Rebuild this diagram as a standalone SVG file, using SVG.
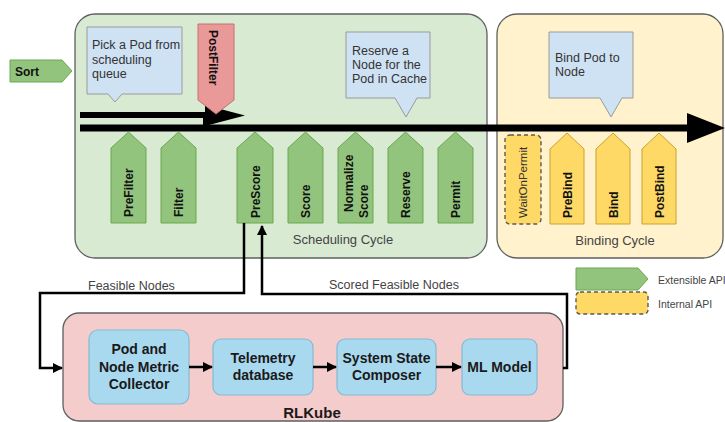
<svg xmlns="http://www.w3.org/2000/svg" width="725" height="422" viewBox="0 0 725 422">
  <defs>
    <style>
      text { font-family: "Liberation Sans", Arial, sans-serif; }
      .panel { stroke: #5f5f5f; stroke-width: 1.3; }
      .ext { fill: #93c47d; stroke: #6aa84f; stroke-width: 1; }
      .bind { fill: #ffd966; stroke: #c9a227; stroke-width: 1; }
      .internal { fill: #ffd966; stroke: #5a5a5a; stroke-width: 1.4; stroke-dasharray: 4 3; }
      .callout { fill: #cfe2f3; stroke: #9a9a9a; stroke-width: 1; }
      .note { font-size: 12.5px; fill: #333; }
      .api { font-size: 12px; font-weight: bold; fill: #111; }
      .cycle { font-size: 13px; fill: #444; text-anchor: middle; }
      .flowlabel { font-size: 12.5px; fill: #444; }
      .legend { font-size: 10.5px; fill: #444; }
      .comp { fill: #a9d9ef; stroke: #86b9d3; stroke-width: 1.2; }
      .comptext { font-size: 14px; font-weight: bold; fill: #1a1a1a; text-anchor: middle; }
      .wire { fill: none; stroke: #000; stroke-width: 2.5; }
    </style>
    <marker id="arrow" viewBox="0 0 10 10" refX="9" refY="5" markerWidth="4" markerHeight="4" orient="auto" markerUnits="strokeWidth">
      <path d="M0,0 L10,5 L0,10 z" fill="#000"/>
    </marker>
  </defs>

  <!-- cycle panels -->
  <g id="scheduling-cycle">
    <rect class="panel" x="75" y="14" width="412" height="244" rx="20" fill="#d9ead3"/>
    <text class="cycle" x="343" y="244">Scheduling Cycle</text>
  </g>
  <g id="binding-cycle">
    <rect class="panel" x="497" y="14" width="226" height="244" rx="20" fill="#fff2cc"/>
    <text class="cycle" x="615" y="245">Binding Cycle</text>
  </g>

  <!-- Sort entry point -->
  <g id="sort">
    <polygon class="ext" points="10,60 62,60 72,71 62,82 10,82"/>
    <text class="api" x="15" y="76">Sort</text>
  </g>

  <!-- callouts -->
  <g id="note-pick">
    <path class="callout" d="M87,27 H182 V94 H122 L115,102 L108,94 H87 Z"/>
    <text class="note" x="92" y="49">Pick a Pod from</text>
    <text class="note" x="92" y="63.5">scheduling</text>
    <text class="note" x="92" y="78">queue</text>
  </g>
  <g id="note-reserve">
    <path class="callout" d="M346,32 H430 V98 H417 L406,117 L395,98 H346 Z"/>
    <text class="note" x="352" y="55">Reserve a</text>
    <text class="note" x="352" y="69">Node for the</text>
    <text class="note" x="352" y="83">Pod in Cache</text>
  </g>
  <g id="note-bind">
    <path class="callout" d="M549,32 H633 V98 H622 L611,117 L600,98 H549 Z"/>
    <text class="note" x="555" y="62">Bind Pod to</text>
    <text class="note" x="555" y="76">Node</text>
  </g>

  <!-- scheduling flow arrows -->
  <g id="flow">
    <line x1="80" y1="115" x2="210" y2="115" stroke="#000" stroke-width="6"/>
    <rect x="203" y="112" width="6" height="16" fill="#000"/>
    <polygon points="205,105 245,115.5 205,126" fill="#000"/>
    <line x1="80" y1="128" x2="690" y2="128" stroke="#000" stroke-width="7"/>
    <polygon points="687,113 725,128 687,143" fill="#000"/>
  </g>

  <g id="postfilter">
    <polygon points="198,24 234,24 234,100 216,114 198,100" fill="#ea9999" stroke="#c27070" stroke-width="1"/>
    <text class="api" transform="rotate(90 209 30)" x="209" y="30">PostFilter</text>
  </g>

  <!-- extension points of the scheduling cycle -->
  <g id="prefilter">
    <polygon class="ext" points="111,148 128.5,132 146,148 146,223 111,223"/>
    <text class="api" transform="rotate(-90 133 217)" x="133" y="217">PreFilter</text>
  </g>
  <g id="filter">
    <polygon class="ext" points="161,148 178.5,132 196,148 196,223 161,223"/>
    <text class="api" transform="rotate(-90 183 217)" x="183" y="217">Filter</text>
  </g>
  <g id="prescore">
    <polygon class="ext" points="237,148 255,132 273,148 273,223 237,223"/>
    <text class="api" transform="rotate(-90 259.5 218)" x="259.5" y="218">PreScore</text>
  </g>
  <g id="score">
    <polygon class="ext" points="288,148 305.5,132 323,148 323,223 288,223"/>
    <text class="api" transform="rotate(-90 310 218)" x="310" y="218">Score</text>
  </g>
  <g id="normalize-score">
    <polygon class="ext" points="338,148 355.5,132 373,148 373,223 338,223"/>
    <text class="api" transform="rotate(-90 353 212)" x="353" y="212">Normalize</text>
    <text class="api" transform="rotate(-90 367.5 218)" x="367.5" y="218">Score</text>
  </g>
  <g id="reserve">
    <polygon class="ext" points="388,148 405.5,132 423,148 423,223 388,223"/>
    <text class="api" transform="rotate(-90 410 218)" x="410" y="218">Reserve</text>
  </g>
  <g id="permit">
    <polygon class="ext" points="438,148 455.5,132 473,148 473,223 438,223"/>
    <text class="api" transform="rotate(-90 460 218)" x="460" y="218">Permit</text>
  </g>

  <!-- binding cycle steps -->
  <g id="waitonpermit">
    <rect class="internal" x="505" y="135" width="36" height="89" rx="5"/>
    <text transform="rotate(-90 527 218)" x="527" y="218" font-size="11.5" fill="#333">WaitOnPermit</text>
  </g>
  <g id="prebind">
    <polygon class="bind" points="550,149 567,133 584,149 584,224 550,224"/>
    <text class="api" transform="rotate(-90 571.5 218)" x="571.5" y="218">PreBind</text>
  </g>
  <g id="bind">
    <polygon class="bind" points="596,149 613,133 630,149 630,224 596,224"/>
    <text class="api" transform="rotate(-90 617.5 218)" x="617.5" y="218">Bind</text>
  </g>
  <g id="postbind">
    <polygon class="bind" points="642,149 659,133 676,149 676,224 642,224"/>
    <text class="api" transform="rotate(-90 663.5 218)" x="663.5" y="218">PostBind</text>
  </g>

  <!-- legend -->
  <g id="legend">
    <polygon class="ext" points="576,268 638,268 648,279 638,290 576,290"/>
    <text class="legend" x="658" y="284">Extensible API</text>
    <rect class="internal" x="576" y="292" width="72" height="22" rx="4"/>
    <text class="legend" x="658" y="308">Internal API</text>
  </g>

  <!-- RLKube -->
  <g id="rlkube">
    <rect class="panel" x="63" y="313" width="500" height="108" rx="16" fill="#f4cccc"/>
    <text x="312" y="418" font-size="15" font-weight="bold" fill="#1a1a1a" text-anchor="middle">RLKube</text>
  </g>
  <g id="collector">
    <rect class="comp" x="89" y="330" width="100" height="74" rx="9"/>
    <text class="comptext" x="139" y="354">Pod and</text>
    <text class="comptext" x="139" y="372">Node Metric</text>
    <text class="comptext" x="139" y="389">Collector</text>
  </g>
  <g id="telemetry">
    <rect class="comp" x="213" y="339" width="100" height="56" rx="8"/>
    <text class="comptext" x="263" y="363">Telemetry</text>
    <text class="comptext" x="263" y="380">database</text>
  </g>
  <g id="composer">
    <rect class="comp" x="337" y="339" width="99" height="56" rx="8"/>
    <text class="comptext" x="386.5" y="363">System State</text>
    <text class="comptext" x="386.5" y="380">Composer</text>
  </g>
  <g id="ml-model">
    <rect class="comp" x="462" y="339" width="75" height="56" rx="8"/>
    <text class="comptext" x="499.5" y="372">ML Model</text>
  </g>

  <!-- connectors -->
  <g id="connectors">
    <path class="wire" d="M244,223 V293 H40 V368 H62" marker-end="url(#arrow)"/>
    <path class="wire" d="M563,368 H567 V294 H262 V226" marker-end="url(#arrow)"/>
    <path class="wire" d="M189,367 H212" marker-end="url(#arrow)"/>
    <path class="wire" d="M313,367 H336" marker-end="url(#arrow)"/>
    <path class="wire" d="M436,367 H461" marker-end="url(#arrow)"/>
    <text class="flowlabel" x="88" y="290">Feasible Nodes</text>
    <text class="flowlabel" x="329" y="289">Scored Feasible Nodes</text>
  </g>
</svg>
